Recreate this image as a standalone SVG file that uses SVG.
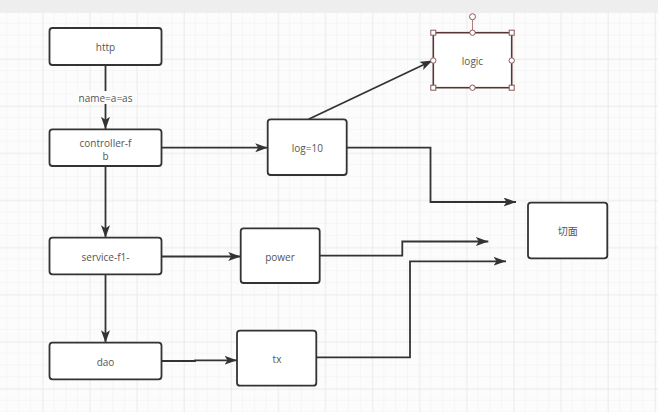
<svg xmlns="http://www.w3.org/2000/svg" width="658" height="412" viewBox="0 0 658 412">
<defs>
<pattern id="minor" patternUnits="userSpaceOnUse" x="-4.4" y="12" width="11.78" height="11.78">
<path d="M11.78,0 V11.78 M0,11.78 H11.78" fill="none" stroke="#efefef" stroke-width="1"/>
</pattern>
<pattern id="major" patternUnits="userSpaceOnUse" x="-4.4" y="12" width="47.1" height="47.1">
<path d="M0,0 V47.1 M0,0 H47.1" fill="none" stroke="#e3e3e3" stroke-width="1"/>
</pattern>
<marker id="arr" markerUnits="userSpaceOnUse" markerWidth="14" markerHeight="10" refX="12.5" refY="4.5" orient="auto">
<path d="M0,0 L12.5,4.5 L0,9 L3,4.5 z" fill="#333"/>
</marker>
<style>
.box{fill:#fff;stroke:#333;stroke-width:1.8}
.t{font-family:"Open Sans","Noto Sans CJK SC",sans-serif;font-size:10px;fill:#555;text-anchor:middle;dominant-baseline:central}
.c{fill:none;stroke:#333;stroke-width:1.8;marker-end:url(#arr)}
.h{fill:#fff;stroke:#8a5656;stroke-width:1}
</style>
</defs>
<rect x="0" y="0" width="658" height="412" fill="#fcfcfc"/>
<rect x="0" y="12" width="658" height="400" fill="url(#minor)"/>
<rect x="0" y="12" width="658" height="400" fill="url(#major)"/>
<rect x="0" y="0" width="658" height="12" fill="#eeeeee"/>

<g id="connectors">
<path class="c" d="M105.5,65 L105.5,129.3"/>
<rect x="74" y="91" width="63" height="13" fill="#fcfcfc"/>
<text class="t" x="105.5" y="97.5">name=a=as</text>
<path class="c" d="M161.7,147.7 L267.7,147.7"/>
<path class="c" d="M308.5,119.3 L432.5,60.5"/>
<path class="c" d="M346.7,147.7 L430.5,147.7 L430.5,202 L516,202"/>
<path class="c" d="M105.5,166 L105.5,237.7"/>
<path class="c" d="M161.7,256.5 L240.7,256.5"/>
<path class="c" d="M319.7,255.7 L402.3,255.7 L402.3,241.5 L488.3,241.5"/>
<path class="c" d="M105.5,274.3 L105.5,342.7"/>
<path class="c" d="M161.7,361 L195,361 L195,360.3 L237,360.3"/>
<path class="c" d="M316.3,357.3 L410,357.3 L410,261.3 L506,261.3"/>
</g>

<g id="http"><rect class="box" x="49.5" y="28" width="112" height="37" rx="3"/><text class="t" x="105.5" y="47">http</text></g>
<g id="controller"><rect class="box" x="49.5" y="129.3" width="112" height="36.7" rx="3"/><text class="t" x="105.5" y="142.5">controller-f</text><text class="t" x="105.5" y="155.5">b</text></g>
<g id="service"><rect class="box" x="49.5" y="237.7" width="112" height="36.6" rx="3"/><text class="t" x="105.5" y="256.5">service-f1-</text></g>
<g id="dao"><rect class="box" x="49.5" y="342.7" width="112" height="36.6" rx="3"/><text class="t" x="105.5" y="362">dao</text></g>
<g id="log"><rect class="box" x="267.7" y="119.3" width="79" height="55.7" rx="3"/><text class="t" x="307.3" y="147.5">log=10</text></g>
<g id="power"><rect class="box" x="240.7" y="228.3" width="79" height="54.7" rx="3"/><text class="t" x="280" y="256.5">power</text></g>
<g id="tx"><rect class="box" x="237" y="330.7" width="79.3" height="55" rx="3"/><text class="t" x="277" y="359">tx</text></g>
<g id="qiemian"><rect class="box" x="528" y="202.7" width="79.3" height="55.6" rx="3"/><text class="t" x="567.7" y="230.5">切面</text></g>
<g id="logic">
<rect x="433.3" y="32.7" width="78.4" height="55" fill="#fff" stroke="#5a3434" stroke-width="1.6"/>
<text class="t" x="472.5" y="61">logic</text>
<line x1="472.5" y1="19.5" x2="472.5" y2="30" stroke="#b08080" stroke-width="1"/>
<circle class="h" cx="472.5" cy="16.7" r="3"/>
<rect class="h" x="430.8" y="30.2" width="5" height="5"/>
<rect class="h" x="509.2" y="30.2" width="5" height="5"/>
<rect class="h" x="430.8" y="85.2" width="5" height="5"/>
<rect class="h" x="509.2" y="85.2" width="5" height="5"/>
<circle class="h" cx="472.5" cy="32.7" r="2.7"/>
<circle class="h" cx="472.5" cy="87.7" r="2.7"/>
<circle class="h" cx="433.3" cy="60.5" r="2.7"/>
<circle class="h" cx="511.7" cy="60.5" r="2.7"/>
</g>
</svg>
